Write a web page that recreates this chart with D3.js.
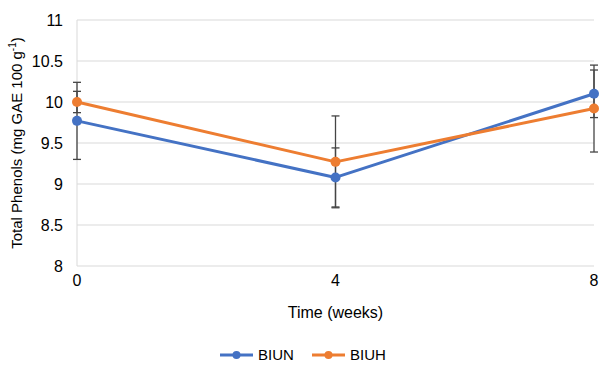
<!DOCTYPE html>
<html>
<head>
<meta charset="utf-8">
<script src="https://cdn.jsdelivr.net/npm/d3@7"></script>
<style>
	body { margin: 0; background: #fff; }
	text { font-family: "Liberation Sans", Arial, sans-serif; fill: #000; }
</style>
</head>
<body>
<div id="chart"></div>
<script>
var weeks = [0, 4, 8];
var biun = [9.77, 9.08, 10.10];
var biunErr = [0.47, 0.36, 0.29];
var biuh = [10.00, 9.27, 9.92];
var biuhErr = [0.13, 0.56, 0.53];
var yTicks = [8, 8.5, 9, 9.5, 10, 10.5, 11];
var xTicks = [0, 4, 8];

var series = [
	{ name: 'BIUN', values: biun, errors: biunErr, color: '#4472C4' },
	{ name: 'BIUH', values: biuh, errors: biuhErr, color: '#ED7D31' }
];

var width = 608, height = 372;
var margin = { top: 20, right: 14, bottom: 106, left: 77 };
var innerW = width - margin.left - margin.right;
var innerH = height - margin.top - margin.bottom;

var svg = d3.select('#chart').append('svg')
	.attr('width', width)
	.attr('height', height);

var g = svg.append('g').attr('transform', 'translate(' + margin.left + ',' + margin.top + ')');

var x = d3.scaleLinear().domain([0, 8]).range([0, innerW]);
var y = d3.scaleLinear().domain([8, 11]).range([innerH, 0]);

// gridlines
g.selectAll('.grid').data(yTicks).enter().append('line')
	.attr('class', 'grid')
	.attr('x1', 0)
	.attr('x2', innerW)
	.attr('y1', function(d) {return y(d);})
	.attr('y2', function(d) {return y(d);})
	.style('stroke', '#d9d9d9')
	.style('stroke-width', 1);

g.append('line')
	.attr('x1', 0).attr('x2', 0)
	.attr('y1', 0).attr('y2', innerH)
	.style('stroke', '#d9d9d9');

// y tick labels
g.selectAll('.ylabel').data(yTicks).enter().append('text')
	.attr('class', 'ylabel')
	.attr('x', -14)
	.attr('y', function(d) {return y(d);})
	.attr('dy', '0.36em')
	.attr('text-anchor', 'end')
	.attr('font-size', '16px')
	.text(function(d) {return d;});

// x tick labels
g.selectAll('.xlabel').data(xTicks).enter().append('text')
	.attr('class', 'xlabel')
	.attr('x', function(d) {return x(d);})
	.attr('y', innerH + 20)
	.attr('text-anchor', 'middle')
	.attr('font-size', '16px')
	.text(function(d) {return d;});

// axis titles
svg.append('text')
	.attr('x', margin.left + innerW / 2)
	.attr('y', 318)
	.attr('text-anchor', 'middle')
	.attr('font-size', '16px')
	.text('Time (weeks)');

var yTitle = svg.append('text')
	.attr('transform', 'translate(22,' + (margin.top + innerH / 2) + ') rotate(-90)')
	.attr('text-anchor', 'middle')
	.attr('font-size', '15px');
yTitle.append('tspan').text('Total Phenols (mg GAE 100 g');
yTitle.append('tspan').attr('font-size', '10px').attr('dy', '-0.6em').text('-1');
yTitle.append('tspan').attr('dy', '0.4em').text(')');

// error bars
var capW = 4;
series.forEach(function(s) {
	var eb = g.append('g').attr('class', 'err-' + s.name);
	weeks.forEach(function(w, i) {
		var top = y(s.values[i] + s.errors[i]);
		var bot = y(s.values[i] - s.errors[i]);
		eb.append('line').attr('x1', x(w)).attr('x2', x(w)).attr('y1', top).attr('y2', bot);
		eb.append('line').attr('x1', x(w) - capW).attr('x2', x(w) + capW).attr('y1', top).attr('y2', top);
		eb.append('line').attr('x1', x(w) - capW).attr('x2', x(w) + capW).attr('y1', bot).attr('y2', bot);
	});
	eb.selectAll('line').style('stroke', '#454545').style('stroke-width', 1.3);
});

// lines and markers
var line = d3.line()
	.x(function(d, i) {return x(weeks[i]);})
	.y(function(d) {return y(d);});

series.forEach(function(s) {
	g.append('path')
		.datum(s.values)
		.attr('d', line)
		.style('fill', 'none')
		.style('stroke', s.color)
		.style('stroke-width', 3)
		.style('stroke-linejoin', 'round');

	g.selectAll('.dot-' + s.name).data(s.values).enter().append('circle')
		.attr('cx', function(d, i) {return x(weeks[i]);})
		.attr('cy', function(d) {return y(d);})
		.attr('r', 5)
		.style('fill', s.color);
});

// legend
var legendX = [220, 312];
var legend = svg.selectAll('.legend').data(series).enter().append('g')
	.attr('class', 'legend')
	.attr('transform', function(d, i) {return 'translate(' + legendX[i] + ',355)';});

legend.append('line')
	.attr('x1', 0).attr('x2', 33)
	.attr('y1', 0).attr('y2', 0)
	.style('stroke', function(d) {return d.color;})
	.style('stroke-width', 3);

legend.append('circle')
	.attr('cx', 16.5).attr('cy', 0).attr('r', 4)
	.style('fill', function(d) {return d.color;});

legend.append('text')
	.attr('x', 38)
	.attr('y', 0)
	.attr('dy', '0.36em')
	.attr('font-size', '15px')
	.text(function(d) {return d.name;});
</script>
</body>
</html>
